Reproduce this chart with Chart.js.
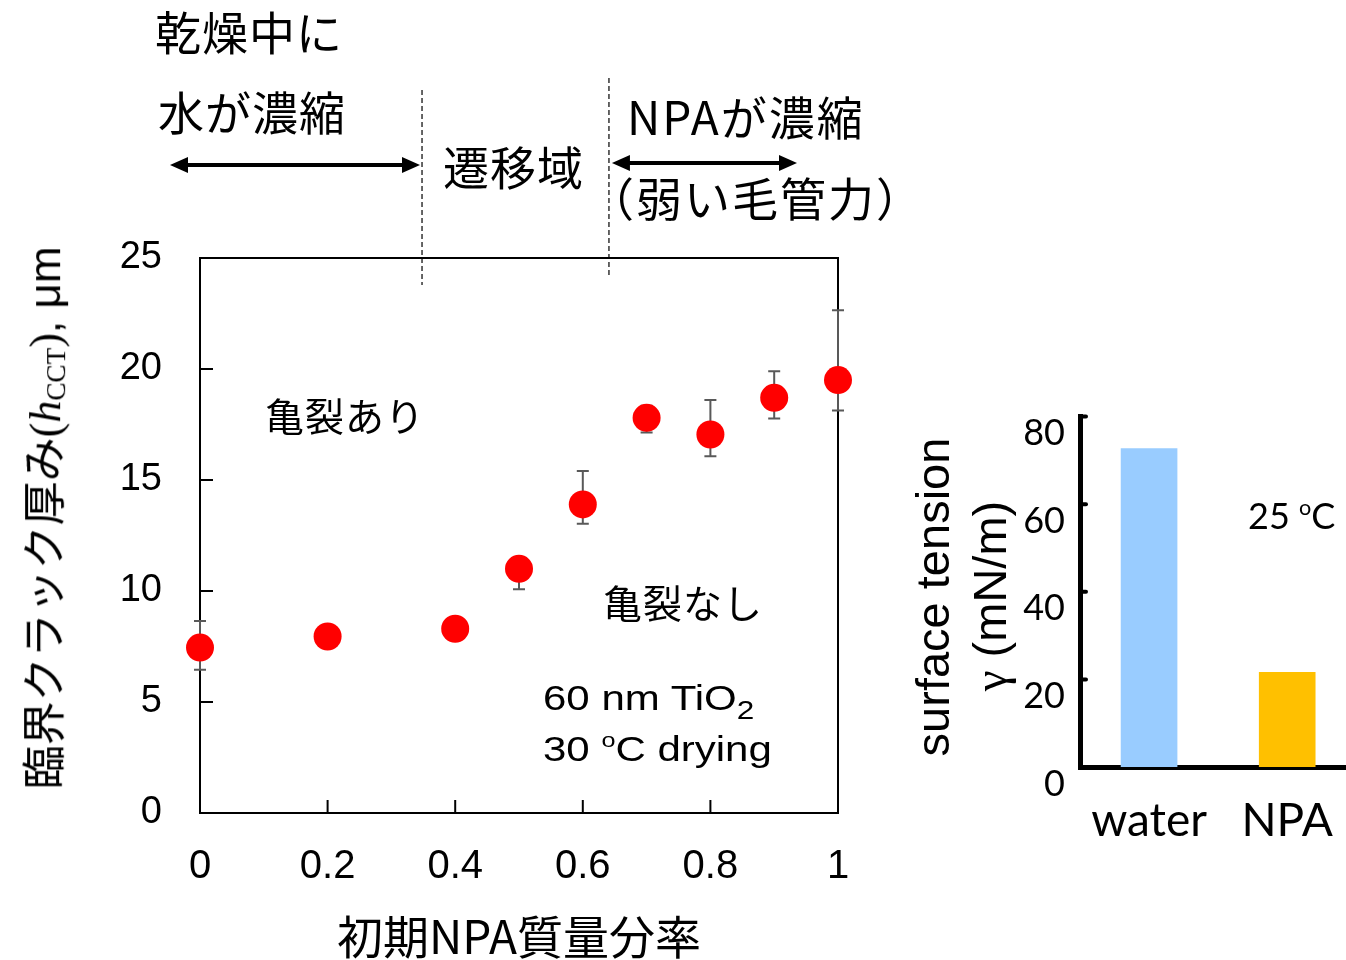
<!DOCTYPE html>
<html lang="ja">
<head>
<meta charset="utf-8">
<title>臨界クラック厚みと表面張力</title>
<script src="https://cdn.jsdelivr.net/npm/chart.js@4.4.1/dist/chart.umd.min.js"></script>
<style>
  html, body { margin: 0; padding: 0; background: #fff; overflow: hidden; }
  #page { position: relative; width: 1346px; height: 960px; overflow: hidden; }
  .box { position: absolute; }
  .lbl { position: absolute; white-space: nowrap; color: #000; line-height: 1; }
  .jp { font-family: "Noto Sans CJK JP", sans-serif; }
  .en { font-family: "Liberation Sans", Arial, sans-serif; }
  .rot { transform: translate(-50%, -50%) rotate(-90deg); }
  .wide { transform: scaleX(1.2); transform-origin: left center; }
  .sup { font-size: 0.6em; vertical-align: 0.65em; }
  .head { font-size: 46px; letter-spacing: 1px; }
</style>
</head>
<body>
<div id="page">
  <div class="box" style="left:0; top:0; width:900px; height:960px;">
    <canvas id="crack-chart"></canvas>
  </div>
  <div class="box" style="left:880px; top:380px; width:480px; height:500px;">
    <canvas id="tension-chart"></canvas>
  </div>

  <!-- drying regimes above the main chart -->
  <div class="lbl jp head" style="left:155px; top:7px;">乾燥中に</div>
  <div class="lbl jp head" style="left:158px; top:87px;">水が濃縮</div>
  <div class="lbl jp head" style="left:443px; top:142px;">遷移域</div>
  <div class="lbl jp head" style="left:627px; top:92px; letter-spacing:2px;">NPAが濃縮</div>
  <div class="lbl jp head" style="left:588px; top:173px; letter-spacing:2px;">（弱い毛管力）</div>

  <!-- main chart annotations -->
  <div class="lbl jp" style="left:265px; top:395px; font-size:39px; letter-spacing:1px;">亀裂あり</div>
  <div class="lbl jp" style="left:603px; top:582px; font-size:39px; letter-spacing:1px;">亀裂なし</div>
  <div class="lbl en wide" style="left:543px; top:680px; font-size:35px;">60 nm TiO<sub style="font-size:0.75em; vertical-align:-0.35em;">2</sub></div>
  <div class="lbl en wide" style="left:543px; top:729px; font-size:35px;">30 <span class="sup">o</span>C drying</div>
  <div class="lbl jp rot" style="left:45px; top:518px; font-size:44px;">臨界クラック厚み<span style="font-family:'Liberation Serif';">(<i>h</i><sub style="font-size:0.62em; vertical-align:-0.2em;">CCT</sub>)</span><span class="en">, μm</span></div>

  <!-- surface tension annotations -->
  <div class="lbl en rot" style="left:932px; top:597px; font-size:47px;">surface tension</div>
  <div class="lbl en rot" style="left:990px; top:596px; font-size:47px;"><span style="font-family:'Liberation Serif';">γ</span> (mN/m)</div>
  <div class="lbl" style="left:1248px; top:497px; font-size:36px; font-family:Lato, sans-serif;">25 <span class="sup">o</span>C</div>
</div>

<script>
// critical crack thickness vs initial NPA mass fraction
const npaFraction = [0, 0.2, 0.4, 0.5, 0.6, 0.7, 0.8, 0.9, 1];
const crackThickness = [7.45, 7.95, 8.3, 11.0, 13.9, 17.8, 17.05, 18.7, 19.5];
const errPlus = [1.2, 0.4, 0.4, 0.45, 1.5, 0.55, 1.55, 1.2, 3.15];
const errMinus = [1.0, 0.4, 0.4, 0.92, 0.87, 0.66, 0.98, 0.93, 1.37];
const regimeBounds = [0.348, 0.641];
const xTitle = "初期NPA質量分率";

// surface tension at 25 C
const liquids = ["water", "NPA"];
const surfaceTension = [72.8, 21.7];
const liquidColors = ["#99CCFF", "#FFC000"];

Chart.defaults.font.family = "Liberation Sans";
Chart.defaults.color = "#000";

// double headed arrow, drawn on the canvas
const drawArrow = (ctx, x1, x2, y) => {
  const head = 18;
  const half = 8;
  ctx.lineWidth = 4;
  ctx.beginPath();
  ctx.moveTo(x1 + head - 2, y);
  ctx.lineTo(x2 - head + 2, y);
  ctx.stroke();
  ctx.beginPath();
  ctx.moveTo(x1, y);
  ctx.lineTo(x1 + head, y - half);
  ctx.lineTo(x1 + head, y + half);
  ctx.closePath();
  ctx.fill();
  ctx.beginPath();
  ctx.moveTo(x2, y);
  ctx.lineTo(x2 - head, y - half);
  ctx.lineTo(x2 - head, y + half);
  ctx.closePath();
  ctx.fill();
};

// frame, inward ticks, error bars, regime lines and arrows
const crackDecor = {
  id: "crackDecor",
  beforeDatasetsDraw(chart) {
    const { ctx, chartArea: a, scales } = chart;
    const x = scales.x;
    const y = scales.y;
    ctx.save();
    ctx.strokeStyle = "#000";
    ctx.fillStyle = "#000";
    ctx.lineWidth = 2;
    ctx.strokeRect(a.left, a.top, a.right - a.left, a.bottom - a.top);

    x.ticks.forEach((t) => {
      const px = x.getPixelForValue(t.value);
      ctx.beginPath();
      ctx.moveTo(px, a.bottom);
      ctx.lineTo(px, a.bottom - 13);
      ctx.stroke();
    });
    y.ticks.forEach((t) => {
      const py = y.getPixelForValue(t.value);
      ctx.beginPath();
      ctx.moveTo(a.left, py);
      ctx.lineTo(a.left + 13, py);
      ctx.stroke();
    });

    // error bars (behind the markers)
    ctx.strokeStyle = "#595959";
    ctx.lineWidth = 2;
    npaFraction.forEach((f, i) => {
      const px = x.getPixelForValue(f);
      const top = y.getPixelForValue(crackThickness[i] + errPlus[i]);
      const bot = y.getPixelForValue(crackThickness[i] - errMinus[i]);
      ctx.beginPath();
      ctx.moveTo(px, top);
      ctx.lineTo(px, bot);
      ctx.moveTo(px - 6, top);
      ctx.lineTo(px + 6, top);
      ctx.moveTo(px - 6, bot);
      ctx.lineTo(px + 6, bot);
      ctx.stroke();
    });

    // dashed regime boundaries
    const b1 = x.getPixelForValue(regimeBounds[0]);
    const b2 = x.getPixelForValue(regimeBounds[1]);
    ctx.strokeStyle = "#000";
    ctx.lineWidth = 1.2;
    ctx.setLineDash([5, 3]);
    ctx.beginPath();
    ctx.moveTo(b1, 90);
    ctx.lineTo(b1, 285);
    ctx.moveTo(b2, 78);
    ctx.lineTo(b2, 276);
    ctx.stroke();
    ctx.setLineDash([]);

    drawArrow(ctx, 170, b1 - 2, 165);
    drawArrow(ctx, b2 + 3, 797, 163);
    ctx.restore();
  },
};

new Chart(document.getElementById("crack-chart"), {
  type: "scatter",
  data: {
    datasets: [
      {
        data: npaFraction.map((f, i) => ({ x: f, y: crackThickness[i] })),
        backgroundColor: "#FF0000",
        borderWidth: 0,
        pointRadius: 14,
        pointHoverRadius: 14,
        clip: false,
      },
    ],
  },
  options: {
    responsive: true,
    maintainAspectRatio: false,
    animation: false,
    events: [],
    layout: { padding: { top: 258, right: 62, left: 0, bottom: 0 } },
    plugins: { legend: { display: false }, tooltip: { enabled: false } },
    scales: {
      x: {
        type: "linear",
        min: 0,
        max: 1,
        ticks: {
          stepSize: 0.2,
          padding: 30,
          font: { size: 40 },
          callback: (v) => `${+v.toFixed(1)}`,
        },
        grid: { display: false, drawTicks: false },
        border: { display: true, color: "#000", width: 2 },
        title: {
          display: true,
          text: xTitle,
          padding: 0,
          font: { family: "Noto Sans CJK JP", size: 46, lineHeight: 1.0 },
        },
        afterFit(scale) {
          scale.height = 147;
        },
      },
      y: {
        min: 0,
        max: 25,
        ticks: { stepSize: 5, padding: 38, font: { size: 38 } },
        grid: { display: false, drawTicks: false },
        border: { display: true, color: "#000", width: 2 },
        afterFit(scale) {
          scale.width = 200;
        },
      },
    },
  },
  plugins: [crackDecor],
});

// short inward ticks on the thick y axis
const tensionTicks = {
  id: "tensionTicks",
  afterDraw(chart) {
    const { ctx, chartArea: a, scales } = chart;
    const y = scales.y;
    ctx.save();
    ctx.strokeStyle = "#000";
    ctx.lineWidth = 4;
    ctx.lineCap = "round";
    y.ticks.forEach((t) => {
      const py = y.getPixelForValue(t.value);
      ctx.beginPath();
      ctx.moveTo(a.left, py);
      ctx.lineTo(a.left + 6, py);
      ctx.stroke();
    });
    ctx.restore();
  },
};

new Chart(document.getElementById("tension-chart"), {
  type: "bar",
  data: {
    labels: liquids,
    datasets: [
      {
        data: surfaceTension,
        backgroundColor: liquidColors,
        barPercentage: 0.41,
        categoryPercentage: 1,
      },
    ],
  },
  options: {
    responsive: true,
    maintainAspectRatio: false,
    animation: false,
    events: [],
    layout: { padding: { top: 34, left: 0, right: 0, bottom: 0 } },
    plugins: { legend: { display: false }, tooltip: { enabled: false } },
    scales: {
      x: {
        grid: { display: false, drawTicks: false },
        border: { display: true, color: "#000", width: 5 },
        ticks: { padding: 27, font: { family: "Lato", size: 46 } },
        afterFit(scale) {
          scale.height = 113;
        },
      },
      y: {
        min: 0,
        max: 80,
        ticks: {
          stepSize: 10,
          padding: 15,
          labelOffset: 17,
          font: { family: "Lato", size: 36 },
          callback: (v) => (v % 20 === 0 ? v : ""),
        },
        grid: { display: false, drawTicks: false },
        border: { display: true, color: "#000", width: 5 },
        afterFit(scale) {
          scale.width = 200;
        },
      },
    },
  },
  plugins: [tensionTicks],
});
</script>
</body>
</html>
